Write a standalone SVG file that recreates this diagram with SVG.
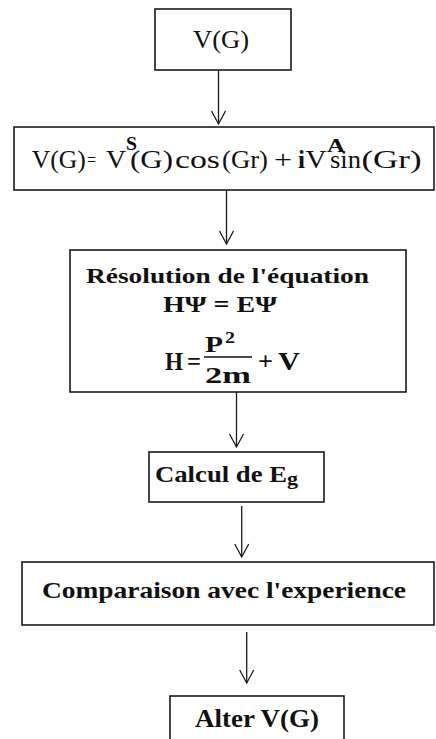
<svg xmlns="http://www.w3.org/2000/svg" width="436" height="739" viewBox="0 0 436 739">
<style>
  .box { fill: #ffffff; stroke: #1a1a1a; stroke-width: 1.6; }
  .conn { stroke: #1a1a1a; stroke-width: 1.3; fill: none; }
  text { font-family: 'Liberation Serif', 'DejaVu Serif', 'Noto Serif', 'Times New Roman', serif; fill: #111111; }
  .r { font-weight: normal; }
  .b { font-weight: bold; }
</style>
<defs>
  <marker id="vhead" markerUnits="userSpaceOnUse" viewBox="-15 -9 17 18" refX="0" refY="0" markerWidth="17" markerHeight="18" orient="auto">
    <path d="M -13 -7 L 0 0 L -13 7" fill="none" stroke="#1a1a1a" stroke-width="1.3"/>
  </marker>
</defs>
<rect width="436" height="739" fill="#ffffff"/>

<g id="connectors">
  <line class="conn" x1="218.5" y1="70" x2="218.5" y2="124" marker-end="url(#vhead)"/>
  <line class="conn" x1="226.5" y1="190" x2="226.5" y2="244" marker-end="url(#vhead)"/>
  <line class="conn" x1="236.5" y1="392" x2="236.5" y2="447" marker-end="url(#vhead)"/>
  <line class="conn" x1="241.7" y1="506" x2="241.7" y2="557" marker-end="url(#vhead)"/>
  <line class="conn" x1="246.7" y1="632" x2="246.7" y2="683" marker-end="url(#vhead)"/>
</g>

<g id="node-vg">
  <rect class="box" x="155" y="9" width="136" height="61"/>
  <text class="r" x="193" y="48" font-size="26" textLength="56" lengthAdjust="spacingAndGlyphs">V(G)</text>
</g>

<g id="node-formula">
  <rect class="box" x="14" y="127" width="420" height="63"/>
  <text class="r" x="31.7" y="168" font-size="26" textLength="54" lengthAdjust="spacingAndGlyphs">V(G)</text>
  <text class="r" x="87" y="166" font-size="18" textLength="9" lengthAdjust="spacingAndGlyphs">=</text>
  <text class="r" x="106" y="168" font-size="26" textLength="20" lengthAdjust="spacingAndGlyphs">V</text>
  <text class="b" x="126" y="150" font-size="18" textLength="11" lengthAdjust="spacingAndGlyphs">S</text>
  <text class="r" x="130" y="168" font-size="26" textLength="43" lengthAdjust="spacingAndGlyphs">(G)</text>
  <text class="r" x="175" y="168" font-size="26" textLength="45" lengthAdjust="spacingAndGlyphs">cos</text>
  <text class="r" x="222" y="168" font-size="26" textLength="46" lengthAdjust="spacingAndGlyphs">(Gr)</text>
  <text class="r" x="274" y="168" font-size="26" textLength="18" lengthAdjust="spacingAndGlyphs">+</text>
  <text class="b" x="298" y="168" font-size="26" textLength="7" lengthAdjust="spacingAndGlyphs">i</text>
  <text class="r" x="305.5" y="168" font-size="26" textLength="21" lengthAdjust="spacingAndGlyphs">V</text>
  <text class="b" x="327" y="152" font-size="19" textLength="18" lengthAdjust="spacingAndGlyphs">A</text>
  <text class="r" x="330" y="168" font-size="26" textLength="31" lengthAdjust="spacingAndGlyphs">sin</text>
  <text class="r" x="361.5" y="168" font-size="26" textLength="60" lengthAdjust="spacingAndGlyphs">(Gr)</text>
</g>

<g id="node-resolution">
  <rect class="box" x="70" y="250" width="336" height="142"/>
  <text class="b" x="86" y="283" font-size="22" textLength="283" lengthAdjust="spacingAndGlyphs">Résolution de l'équation</text>
  <text class="b" x="163" y="312" font-size="23" textLength="114" lengthAdjust="spacingAndGlyphs">HΨ = EΨ</text>
  <text class="b" x="165" y="370" font-size="25" textLength="18" lengthAdjust="spacingAndGlyphs">H</text>
  <text class="b" x="187" y="370" font-size="25" textLength="14" lengthAdjust="spacingAndGlyphs">=</text>
  <text class="b" x="205" y="352" font-size="23" textLength="18" lengthAdjust="spacingAndGlyphs">P</text>
  <text class="b" x="225" y="343" font-size="17" textLength="10" lengthAdjust="spacingAndGlyphs">2</text>
  <line x1="204" y1="357" x2="252" y2="357" stroke="#111111" stroke-width="1.6"/>
  <text class="b" x="205" y="383" font-size="23" textLength="46" lengthAdjust="spacingAndGlyphs">2m</text>
  <text class="b" x="258" y="370" font-size="25" textLength="15" lengthAdjust="spacingAndGlyphs">+</text>
  <text class="b" x="278" y="370" font-size="25" textLength="22" lengthAdjust="spacingAndGlyphs">V</text>
</g>

<g id="node-calcul">
  <rect class="box" x="149" y="452" width="175" height="50"/>
  <text class="b" x="155" y="482" font-size="24" textLength="132" lengthAdjust="spacingAndGlyphs">Calcul de E</text>
  <text class="b" x="287" y="485" font-size="19" textLength="11" lengthAdjust="spacingAndGlyphs">g</text>
</g>

<g id="node-comparaison">
  <rect class="box" x="22" y="562" width="412" height="63"/>
  <text class="b" x="42" y="598" font-size="23" textLength="364" lengthAdjust="spacingAndGlyphs">Comparaison avec l'experience</text>
</g>

<g id="node-alter">
  <rect class="box" x="170" y="696" width="174" height="60"/>
  <text class="b" x="195" y="727" font-size="26" textLength="124" lengthAdjust="spacingAndGlyphs">Alter V(G)</text>
</g>
</svg>
